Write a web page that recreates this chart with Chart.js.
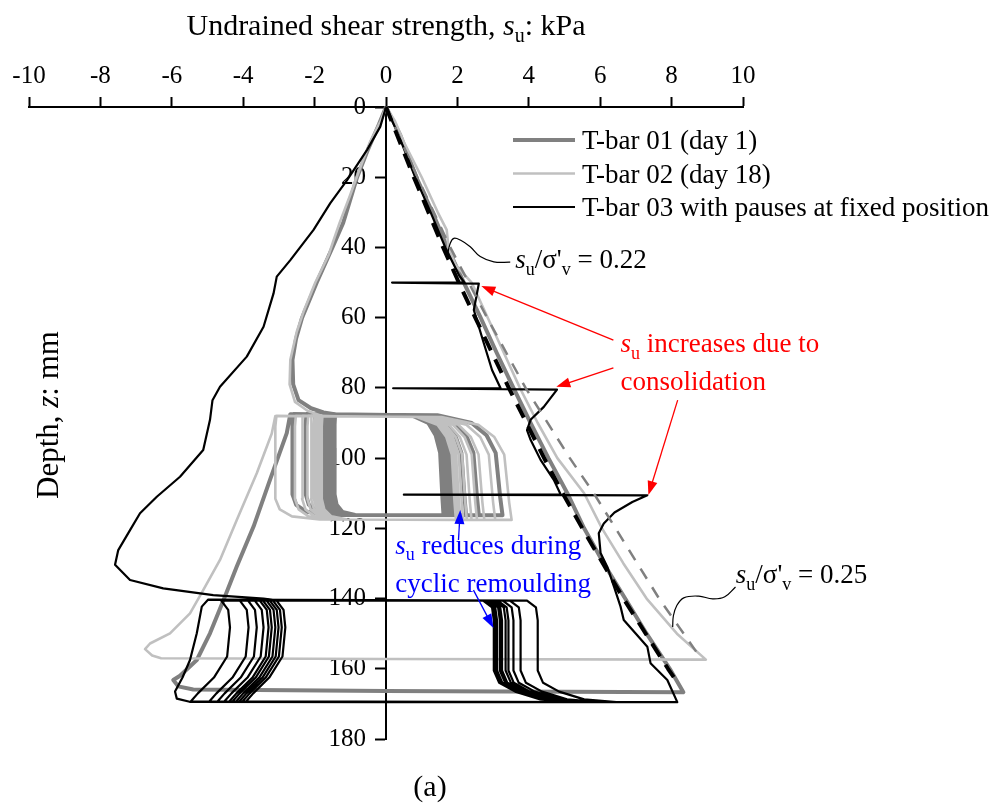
<!DOCTYPE html>
<html>
<head>
<meta charset="utf-8">
<script src="https://cdn.jsdelivr.net/npm/chart.js@4.4.1/dist/chart.umd.min.js"></script>
<style>
  html, body { margin: 0; padding: 0; background: #fff; overflow: hidden; }
  canvas { display: block; }
</style>
</head>
<body>
<canvas id="myChart" width="993" height="807"></canvas>
<script>
// values, points are [su (kPa), depth z (mm)]
const suTicks = [-10, -8, -6, -4, -2, 0, 2, 4, 6, 8, 10];
const depthTicks = [0, 20, 40, 60, 80, 100, 120, 140, 160, 180];

// T-bar 01 (day 1)
const tbar01Push = [[0, 0], [0.4, 8], [0.85, 20], [1.3, 30], [1.72, 40], [2.18, 50], [2.65, 60], [3.1, 70], [3.57, 80],
  [4.05, 90], [4.55, 100], [5.08, 110], [5.55, 120], [6.1, 130], [6.7, 140], [7.3, 150], [7.95, 160], [8.33, 166.7]];
const tbar01Pull = [[8.33, 166.7], [0, 166.3], [-5.4, 165.9], [-5.82, 165.0], [-5.96, 163.2], [-5.77, 162.0],
  [-5.3, 157.5], [-4.93, 149.9], [-4.55, 140.4], [-4.18, 130.9], [-3.71, 119.5], [-3.25, 106.2], [-2.78, 92.9], [-2.68, 87.5]];
const tbar01CycleTop = 87.5;
const tbar01CycleBottom = 116.3;
const tbar01Right = [3.2, 2.55, 2.2, 2.0, 1.88, 1.8, 1.73, 1.67, 1.62, 1.58];
const tbar01Left = [-2.62, -2.25, -2.0, -1.85, -1.74, -1.66, -1.59, -1.53, -1.48, -1.44];
const tbar01Out = [[-1.44, 87.5], [-1.75, 87.0], [-2.1, 85.8], [-2.45, 83.5], [-2.6, 79], [-2.62, 72], [-2.52, 66],
  [-2.35, 60], [-1.94, 50], [-1.5, 40], [-1.2, 33], [-1.05, 28], [-0.81, 20], [-0.5, 12], [-0.2, 5], [0, 0]];

// T-bar 02 (day 18)
const tbar02Push = [[0, 0], [0.25, 4], [0.5, 10], [1.0, 20], [1.45, 30], [1.7, 35], [1.75, 40], [1.95, 45], [2.4, 50],
  [2.85, 60], [3.3, 70], [3.75, 80], [4.25, 90], [4.8, 100], [5.55, 110], [6.05, 120], [6.65, 130], [7.3, 140],
  [8.15, 150], [8.96, 157.4]];
const tbar02Pull = [[8.96, 157.4], [0, 157.2], [-6.3, 157.0], [-6.55, 156.2], [-6.75, 154.4], [-6.61, 152.8],
  [-6.05, 149.9], [-5.49, 144.2], [-5.12, 137.6], [-4.65, 129], [-4.18, 117.6], [-3.62, 104.3], [-3.2, 93], [-3.1, 88]];
const tbar02CycleTop = 88;
const tbar02CycleBottom = 117.6;
const tbar02Right = [3.45, 3.0, 2.7, 2.5, 2.35, 2.22, 2.12, 2.04, 1.97, 1.92];
const tbar02Left = [-3.1, -2.55, -2.35, -2.2, -2.1, -2.02, -1.95, -1.9, -1.85, -1.8];
const tbar02Out = [[-1.8, 88], [-2.2, 86.5], [-2.55, 84], [-2.7, 79], [-2.68, 72], [-2.5, 64], [-2.3, 58], [-1.98, 50],
  [-1.6, 42], [-1.47, 38], [-1.3, 33], [-1.0, 25], [-0.75, 18], [-0.45, 10], [-0.15, 4], [0, 0]];

// T-bar 03 with pauses at 50, 80 and 110 mm
const tbar03Push = [[0, 0], [0.35, 8], [0.82, 20], [1.25, 30], [1.66, 40], [2.05, 48], [2.2, 50],
  [0.17, 50], [2.6, 50.3], [2.55, 53], [2.46, 57.8], [2.74, 67.3], [2.97, 74.9], [3.21, 80.1],
  [0.2, 80.1], [4.79, 80.5], [4.42, 85.4], [4.05, 89.1], [3.95, 92], [4.05, 94.8], [4.33, 100.5], [4.7, 106.2], [4.89, 110.3],
  [0.5, 110.4], [7.32, 110.6], [6.9, 112.5], [6.4, 115.5], [6.1, 118.6], [5.96, 121.4], [6.01, 127], [6.2, 131],
  [6.4, 137], [6.57, 142.3], [6.66, 146.1], [7.0, 150], [7.32, 153.7], [7.41, 158.4], [7.88, 163.2], [8.16, 169.5]];
const tbar03Pull = [[8.16, 169.5], [0, 169.5], [-5.5, 169.4], [-5.86, 168.5], [-5.91, 166.5], [-5.7, 162.5],
  [-5.49, 157.5], [-5.3, 149.9], [-5.16, 142.3], [-4.98, 140.3]];
const tbar03CycleTop = 140.2;
const tbar03CycleBottom = 169.5;
const tbar03Right = [4.25, 3.77, 3.57, 3.43, 3.35, 3.25, 3.19, 3.11, 3.07, 3.02];
const tbar03Left = [-4.37, -3.85, -3.62, -3.43, -3.29, -3.2, -3.1, -3.01, -2.92, -2.82];
const tbar03Out = [[-3.07, 140.5], [-3.43, 140], [-4.84, 139], [-6.24, 137.1], [-7.17, 134.7], [-7.59, 130.4],
  [-7.5, 126.2], [-7.17, 120.5], [-6.89, 115.7], [-6.42, 111], [-5.77, 105.3], [-5.12, 97.7], [-4.93, 89.1],
  [-4.86, 83.5], [-4.65, 79.7], [-3.9, 71.1], [-3.43, 62.6], [-3.15, 53.1], [-3.06, 48.3], [-2.68, 43.6],
  [-2.03, 35], [-1.56, 27.4], [-1.09, 20.8], [-0.53, 12.2], [-0.16, 5.6], [0, 0]];

// su / sigma'v reference lines
const ratio022 = [[0, 0], [0.78, 20], [1.6, 40], [2.04, 50], [2.5, 60], [3.44, 80], [4.43, 100], [4.95, 110],
  [5.5, 120], [6.65, 140], [7.9, 160], [8.1, 163]];
const ratio025 = [[0, 0], [0.88, 20], [1.8, 40], [2.83, 60], [3.91, 80], [5.15, 100], [5.82, 110], [6.43, 120],
  [7.65, 140], [8.2, 148], [8.75, 156]];

// leader lines of the two ratio labels
const leader022 = [[3.48, 44.2], [3.02, 44.1], [2.64, 42.6], [2.36, 39.8], [2.08, 37.9], [1.9, 37.4], [1.8, 38.8], [1.73, 41.7]];
const leader025 = [[9.79, 136.7], [9.49, 139.5], [9.15, 140.1], [8.76, 139.3], [8.34, 139.8], [8.14, 142.1], [8.05, 144.9], [8.03, 148.1]];

const FONT = '"Liberation Serif", "Times New Roman", serif';

// cycle legs, T-bar 01/02: rounded corner right after each reversal
function softDown(r, top, bot) {
  return [[r * 0.45, top + 0.3], [r * 0.75, top + 2.5], [r * 0.88, top + 6], [r * 0.96, top + 11], [r, bot - 5], [r * 1.02, bot]];
}
function softUp(l, top, bot) {
  return [[l * 0.6, bot - 0.1], [l * 0.85, bot - 1], [l * 0.96, bot - 3], [l, bot - 6], [l, top + 3], [l * 0.99, top]];
}
// cycle legs, T-bar 03
function tbar03Down(r, top, bot) {
  return [[r - 0.3, top + 0.4], [r - 0.05, top + 2.3], [r, top + 6], [r, bot - 9], [r + 0.15, bot - 5.5],
    [r + 0.6, bot - 3], [r + 1.3, bot - 0.8], [r + 2.2, bot]];
}
function tbar03Up(l, top, bot) {
  return [[l - 1.1, bot - 0.2], [l - 0.9, bot - 2.5], [l - 0.45, bot - 7], [l - 0.08, bot - 13], [l, top + 8],
    [l - 0.05, top + 3], [l - 0.25, top + 0.3]];
}

function cycles(rights, lefts, top, bot, down, up) {
  let pts = [];
  rights.forEach((r, i) => {
    pts = pts.concat(down(r, top, bot), up(lefts[i], top, bot));
  });
  return pts;
}

function toXY(pairs) {
  return pairs.map(p => ({ x: p[0], y: p[1] }));
}

const tbar01Path = [].concat(tbar01Push, tbar01Pull,
  cycles(tbar01Right, tbar01Left, tbar01CycleTop, tbar01CycleBottom, softDown, softUp), tbar01Out);
const tbar02Path = [].concat(tbar02Push, tbar02Pull,
  cycles(tbar02Right, tbar02Left, tbar02CycleTop, tbar02CycleBottom, softDown, softUp), tbar02Out);
const tbar03Path = [].concat(tbar03Push, tbar03Pull,
  cycles(tbar03Right, tbar03Left, tbar03CycleTop, tbar03CycleBottom, tbar03Down, tbar03Up), tbar03Out);

// annotations, in data units
const arrows = [
  { from: [6.37, 66.4], to: [2.67, 51.0], color: '#ff0000' },
  { from: [6.37, 74.3], to: [4.77, 79.7], color: '#ff0000' },
  { from: [8.17, 83.5], to: [7.35, 110.5], color: '#ff0000' },
  { from: [2.03, 123.3], to: [2.08, 114.8], color: '#0000ff' },
  { from: [2.45, 137.6], to: [3.01, 148.4], color: '#0000ff' }
];
const notes = [
  { at: [3.62, 45.9], color: '#000', parts: [['s', 'i'], ['u', 's'], ["/σ'", 'n'], ['v', 's'], [' = 0.22', 'n']] },
  { at: [9.8, 135.6], color: '#000', parts: [['s', 'i'], ['u', 's'], ["/σ'", 'n'], ['v', 's'], [' = 0.25', 'n']] },
  { at: [6.57, 69.8], color: '#ff0000', parts: [['s', 'i'], ['u', 's'], [' increases due to', 'n']] },
  { at: [6.57, 80.7], color: '#ff0000', parts: [['consolidation', 'n']] },
  { at: [0.26, 127.3], color: '#0000ff', parts: [['s', 'i'], ['u', 's'], [' reduces during', 'n']] },
  { at: [0.26, 138.1], color: '#0000ff', parts: [['cyclic remoulding', 'n']] }
];

function drawRich(ctx, parts, x, y, color, size, align) {
  const fonts = {
    n: size + 'px ' + FONT,
    i: 'italic ' + size + 'px ' + FONT,
    s: Math.round(size * 0.66) + 'px ' + FONT
  };
  let w = 0;
  parts.forEach(p => { ctx.font = fonts[p[1]]; w += ctx.measureText(p[0]).width; });
  let cx = align === 'center' ? x - w / 2 : x;
  ctx.fillStyle = color;
  ctx.textAlign = 'left';
  ctx.textBaseline = 'alphabetic';
  parts.forEach(p => {
    ctx.font = fonts[p[1]];
    ctx.fillText(p[0], cx, p[1] === 's' ? y + size * 0.24 : y);
    cx += ctx.measureText(p[0]).width;
  });
}

function drawArrow(ctx, x1, y1, x2, y2, color) {
  const a = Math.atan2(y2 - y1, x2 - x1);
  const len = 14, half = 5;
  ctx.strokeStyle = color;
  ctx.fillStyle = color;
  ctx.lineWidth = 1.3;
  ctx.beginPath();
  ctx.moveTo(x1, y1);
  ctx.lineTo(x2 - len * 0.8 * Math.cos(a), y2 - len * 0.8 * Math.sin(a));
  ctx.stroke();
  ctx.beginPath();
  ctx.moveTo(x2, y2);
  ctx.lineTo(x2 - len * Math.cos(a) + half * Math.sin(a), y2 - len * Math.sin(a) - half * Math.cos(a));
  ctx.lineTo(x2 - len * Math.cos(a) - half * Math.sin(a), y2 - len * Math.sin(a) + half * Math.cos(a));
  ctx.closePath();
  ctx.fill();
}

// the depth axis sits at su = 0; move its labels off the line, past the tick marks
const depthLabelShift = {
  id: 'depthLabelShift',
  beforeDraw(chart) {
    const ys = chart.scales.y;
    const off = ys.options.grid.tickLength + ys.options.ticks.padding;
    ys.getLabelItems(chart.chartArea).forEach(item => {
      if (item._shifted) return;
      const t = item.options ? item.options.translation : item.translation;
      t[0] -= off;
      item._shifted = true;
    });
  }
};

const textPlugin = {
  id: 'textPlugin',
  afterDraw(chart) {
    const ctx = chart.ctx;
    const xs = chart.scales.x, ys = chart.scales.y;
    ctx.save();

    // axis titles and panel label
    drawRich(ctx, [['Undrained shear strength, ', 'n'], ['s', 'i'], ['u', 's'], [': kPa', 'n']], 386, 35, '#000', 30, 'center');
    ctx.save();
    ctx.translate(58, 415);
    ctx.rotate(-Math.PI / 2);
    drawRich(ctx, [['Depth, ', 'n'], ['z', 'i'], [': mm', 'n']], 0, 0, '#000', 31, 'center');
    ctx.restore();
    drawRich(ctx, [['(a)', 'n']], 430, 796, '#000', 30, 'center');

    // legend
    const legendItems = chart.data.datasets.filter(d => d.legendRank).sort((a, b) => a.legendRank - b.legendRank);
    legendItems.forEach((d, i) => {
      const y = 140 + i * 33.5;
      ctx.strokeStyle = d.borderColor;
      ctx.lineWidth = d.borderWidth;
      ctx.setLineDash([]);
      ctx.beginPath();
      ctx.moveTo(513, y);
      ctx.lineTo(575, y);
      ctx.stroke();
      drawRich(ctx, [[d.label, 'n']], 582, y + 9, '#000', 27, 'left');
    });

    // arrows and notes
    arrows.forEach(a => {
      drawArrow(ctx, xs.getPixelForValue(a.from[0]), ys.getPixelForValue(a.from[1]),
        xs.getPixelForValue(a.to[0]), ys.getPixelForValue(a.to[1]), a.color);
    });
    notes.forEach(n => {
      drawRich(ctx, n.parts, xs.getPixelForValue(n.at[0]), ys.getPixelForValue(n.at[1]), n.color, 27, 'left');
    });
    ctx.restore();
  }
};

function lineSet(label, pairs, color, width, extra) {
  return Object.assign({
    label: label,
    data: toXY(pairs),
    showLine: true,
    borderColor: color,
    borderWidth: width,
    pointRadius: 0,
    fill: false,
    tension: 0,
    clip: false,
    borderJoinStyle: 'round',
    borderCapStyle: 'butt'
  }, extra || {});
}

const tickFont = { family: FONT, size: 25 };

const ctx = document.getElementById('myChart').getContext('2d');
const myChart = new Chart(ctx, {
  type: 'scatter',
  data: {
    datasets: [
      lineSet('su/σ\'v = 0.22', ratio022, '#000000', 4, { borderDash: [15, 10] }),
      lineSet('su/σ\'v = 0.25', ratio025, '#808080', 2.5, { borderDash: [12, 10] }),
      lineSet('leader 0.22', leader022, '#000000', 1.2, { tension: 0.4 }),
      lineSet('leader 0.25', leader025, '#000000', 1.2, { tension: 0.4 }),
      lineSet('T-bar 03 with pauses at fixed position', tbar03Path, '#000000', 2.2, { legendRank: 3 }),
      lineSet('T-bar 02 (day 18)', tbar02Path, '#c0c0c0', 2.6, { legendRank: 2 }),
      lineSet('T-bar 01 (day 1)', tbar01Path, '#808080', 4, { legendRank: 1 })
    ]
  },
  options: {
    responsive: false,
    devicePixelRatio: 1,
    animation: false,
    events: [],
    layout: { padding: { left: 29, right: 250, top: 47, bottom: 68 } },
    plugins: { legend: { display: false }, tooltip: { enabled: false } },
    scales: {
      x: {
        type: 'linear',
        position: 'top',
        min: -10,
        max: 10,
        afterFit: s => { s.height = 60; },
        afterBuildTicks: s => { s.ticks = suTicks.map(v => ({ value: v })); },
        grid: { drawOnChartArea: false, drawTicks: true, tickLength: 10, tickWidth: 2, tickColor: '#000' },
        border: { display: true, color: '#000', width: 2 },
        ticks: { color: '#000', font: tickFont, padding: 6, maxRotation: 0, autoSkip: false }
      },
      y: {
        type: 'linear',
        reverse: true,
        min: 0,
        max: 180,
        position: { x: 0 },
        afterFit: s => { s.width = 0; },
        afterBuildTicks: s => { s.ticks = depthTicks.map(v => ({ value: v })); },
        grid: { drawOnChartArea: false, drawTicks: true, tickLength: 10, tickWidth: 2, tickColor: '#000' },
        border: { display: true, color: '#000', width: 2 },
        ticks: { color: '#000', font: tickFont, padding: 10, autoSkip: false }
      }
    }
  },
  plugins: [depthLabelShift, textPlugin]
});
</script>
</body>
</html>
